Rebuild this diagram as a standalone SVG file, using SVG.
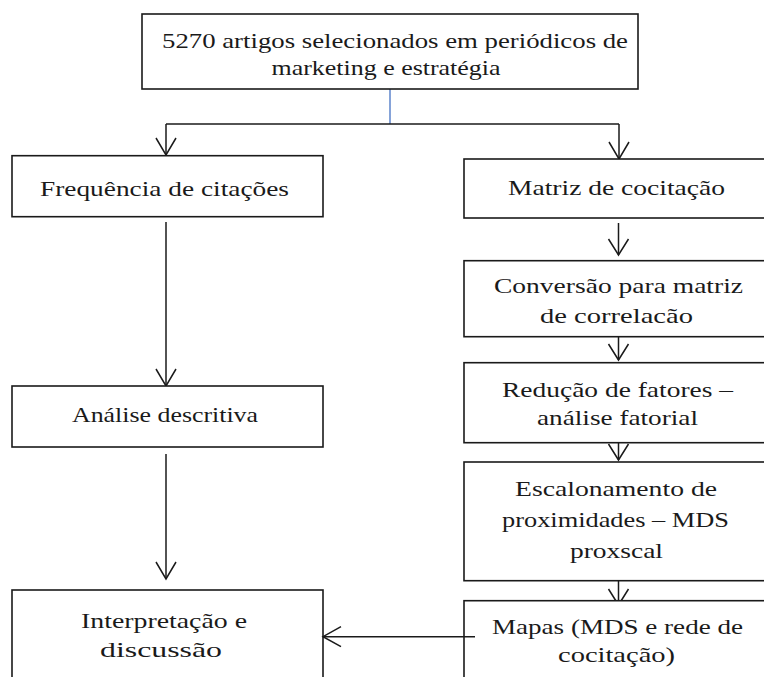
<svg xmlns="http://www.w3.org/2000/svg" width="764" height="677" viewBox="0 0 764 677">
<defs>
<style>
.box{fill:#fff;stroke:#1a1a1a;stroke-width:1.6}
.t{font-family:"Liberation Serif","Times New Roman",serif;font-size:21px;fill:#1a1a1a;text-anchor:middle}
.tr{font-family:"Liberation Serif","Times New Roman",serif;font-size:22px;fill:#1a1a1a;text-anchor:middle}
.ln{fill:none;stroke:#1a1a1a;stroke-width:1.5}
.blue{fill:none;stroke:#4472c4;stroke-width:1.3}
.hd{fill:none;stroke:#1a1a1a;stroke-width:1.5;stroke-linejoin:miter}
</style>
</defs>
<rect width="764" height="677" fill="#fff"/>
<g id="connectors">
<line class="blue" x1="390" y1="89" x2="390" y2="124"/>
<line class="ln" x1="166" y1="124" x2="619" y2="124"/>
<line class="ln" x1="166" y1="124" x2="166" y2="155"/>
<polyline class="hd" points="156,138 166,155 176,138"/>
<line class="ln" x1="619" y1="124" x2="619" y2="159"/>
<polyline class="hd" points="609,142 619,159 629,142"/>
<line class="ln" x1="166" y1="222" x2="166" y2="386"/>
<polyline class="hd" points="156,369 166,386 176,369"/>
<line class="ln" x1="166" y1="454" x2="166" y2="579"/>
<polyline class="hd" points="156,562 166,579 176,562"/>
<line class="ln" x1="618.5" y1="223" x2="618.5" y2="255"/>
<polyline class="hd" points="608.5,239 618.5,255 628.5,239"/>
<line class="ln" x1="618.5" y1="330" x2="618.5" y2="360"/>
<polyline class="hd" points="608.5,344 618.5,360 628.5,344"/>
<line class="ln" x1="618.5" y1="430" x2="618.5" y2="460"/>
<polyline class="hd" points="608.5,444 618.5,460 628.5,444"/>
<line class="ln" x1="618.5" y1="573" x2="618.5" y2="605"/>
<polyline class="hd" points="608.5,589 618.5,605 628.5,589"/>
</g>
<g id="n-top">
<rect class="box" x="142" y="14" width="496" height="75"/>
<text class="t" x="395" y="48" textLength="466" lengthAdjust="spacingAndGlyphs">5270 artigos selecionados em periódicos de</text>
<text class="t" x="386" y="75" textLength="229" lengthAdjust="spacingAndGlyphs">marketing e estratégia</text>
</g>
<g id="n-freq">
<rect class="box" x="12" y="155.7" width="311" height="61"/>
<text class="t" x="164.5" y="196" textLength="249" lengthAdjust="spacingAndGlyphs">Frequência de citações</text>
</g>
<g id="n-analise">
<rect class="box" x="12" y="386" width="311" height="61"/>
<text class="t" x="165" y="422" textLength="186" lengthAdjust="spacingAndGlyphs">Análise descritiva</text>
</g>
<g id="n-interp">
<rect class="box" x="12" y="590" width="311" height="120"/>
<text class="t" x="164" y="628" textLength="166" lengthAdjust="spacingAndGlyphs">Interpretação e</text>
<text class="t" x="161" y="656.5" textLength="122" lengthAdjust="spacingAndGlyphs">discussão</text>
</g>
<g id="n-matriz">
<rect class="box" x="464" y="159" width="310" height="59"/>
<text class="tr" x="616.5" y="195" textLength="217" lengthAdjust="spacingAndGlyphs">Matriz de cocitação</text>
</g>
<g id="n-conversao">
<rect class="box" x="464" y="260.7" width="310" height="76"/>
<text class="tr" x="618.5" y="293" textLength="249" lengthAdjust="spacingAndGlyphs">Conversão para matriz</text>
<text class="tr" x="616.5" y="323" textLength="153" lengthAdjust="spacingAndGlyphs">de correlacão</text>
</g>
<g id="n-reducao">
<rect class="box" x="464" y="362.7" width="310" height="80"/>
<text class="tr" x="617.5" y="397" textLength="231" lengthAdjust="spacingAndGlyphs">Redução de fatores –</text>
<text class="tr" x="617.5" y="425" textLength="161" lengthAdjust="spacingAndGlyphs">análise fatorial</text>
</g>
<g id="n-escal">
<rect class="box" x="464" y="462" width="310" height="118.7"/>
<text class="tr" x="616" y="495.5" textLength="202" lengthAdjust="spacingAndGlyphs">Escalonamento de</text>
<text class="tr" x="615.5" y="527" textLength="227" lengthAdjust="spacingAndGlyphs">proximidades – MDS</text>
<text class="tr" x="616.5" y="558" textLength="93" lengthAdjust="spacingAndGlyphs">proxscal</text>
</g>
<g id="n-mapas">
<rect class="box" x="464" y="600.7" width="310" height="110"/>
<text class="tr" x="617.5" y="634" textLength="251" lengthAdjust="spacingAndGlyphs">Mapas (MDS e rede de</text>
<text class="tr" x="616.5" y="661.5" textLength="117" lengthAdjust="spacingAndGlyphs">cocitação)</text>
</g>
<g id="connector-mapas-interp">
<line class="ln" x1="475" y1="636.7" x2="323" y2="636.7"/>
<polyline class="hd" points="341,626.7 323,636.7 341,646.7"/>
</g>
</svg>
